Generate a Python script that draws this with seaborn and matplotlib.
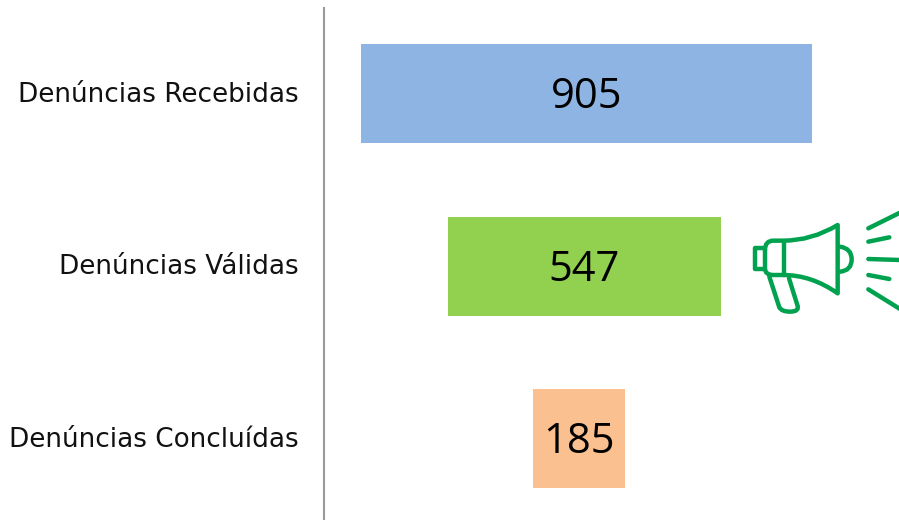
import matplotlib
matplotlib.use("Agg")
import matplotlib.pyplot as plt
import matplotlib.transforms as mtrans
import seaborn as sns
import pandas as pd
from matplotlib.path import Path
from matplotlib.patches import PathPatch

categories = ["Denúncias Recebidas", "Denúncias Válidas", "Denúncias Concluídas"]
values = [905, 547, 185]
bar_starts = [74, 249, 419]
colors = ["#8EB4E3", "#92D050", "#FBC08F"]

W, H = 899, 520
sns.set_theme(style="white")
plt.rcParams["font.family"] = ["DejaVu Sans"]
fig = plt.figure(figsize=(W / 100, H / 100), dpi=100, facecolor="white")
ax = fig.add_axes([324 / W, 0, 1 - 324 / W, 512 / H])
df = pd.DataFrame({"cat": categories, "val": values})
sns.barplot(data=df, x="val", y="cat", left=bar_starts, width=0.574, saturation=1,
            color=colors[0], errorbar=None, ax=ax)
for bar, col in zip(ax.patches, colors):
    bar.set_facecolor(col)
    bar.set_edgecolor("none")
ax.set_xlim(0, 575 / 0.4985)
ax.set_ylim(2.472, -0.4957)
ax.set_xlabel("")
ax.set_ylabel("")
ax.set_xticks([])
ax.tick_params(axis="y", length=0, pad=18.2, labelsize=18.95, labelcolor="#111111")
shift = mtrans.ScaledTranslation(0, 1.4 / 72, fig.dpi_scale_trans)
for lab in ax.get_yticklabels():
    lab.set_transform(lab.get_transform() + shift)
for s in ["top", "right", "bottom"]:
    ax.spines[s].set_visible(False)
ax.spines["left"].set_color("#999999")
ax.spines["left"].set_linewidth(1.5)
for c in ax.containers:
    for ann in ax.bar_label(c, label_type="center", fontsize=30, family="Open Sans", color="black"):
        ann.xyann = (0, -2.5)

# megaphone decoration on a pixel overlay
ov = fig.add_axes([0, 0, 1, 1], facecolor="none")
ov.set_xlim(0, W)
ov.set_ylim(H, 0)
ov.axis("off")
G = "#00A24F"
LW = 3.2

def P(x, y):
    return (740 + x / 3, 200 + y / 3)

def stroke(verts, codes=None):
    pts = [P(*v) for v in verts]
    if codes is None:
        codes = [Path.MOVETO] + [Path.LINETO] * (len(pts) - 1)
    ov.add_patch(PathPatch(Path(pts, codes), fill=False, ec=G, lw=LW,
                           capstyle="round", joinstyle="round", clip_on=True))

M, L, C = Path.MOVETO, Path.LINETO, Path.CURVE3
# cone body
stroke([(75, 150), (75, 122), (100, 122), (130, 122), (215, 122), (293, 75), (293, 280),
        (215, 225), (130, 225), (100, 225), (75, 225), (75, 205), (75, 150)],
       [M, C, C, L, C, C, L, C, C, L, C, C, L])
# divider
stroke([(133, 122), (133, 225)])
# rear cap
stroke([(72, 145), (45, 145), (45, 175), (45, 207), (72, 207)], [M, L, L, L, L])
# handle
stroke([(88, 230), (118, 322), (125, 335), (150, 335), (180, 335), (172, 315), (147, 235)],
       [M, L, C, C, C, C, L])
# bell
stroke([(300, 140), (335, 145), (335, 178), (335, 212), (300, 215)], [M, C, C, C, C])
# rays
for a, b in [((385, 85), (480, 38)), ((385, 125), (448, 112)), ((385, 177), (480, 180)),
             ((385, 225), (448, 237)), ((385, 268), (480, 327))]:
    stroke([a, b])

fig.savefig("out.png", dpi=100, facecolor="white")
